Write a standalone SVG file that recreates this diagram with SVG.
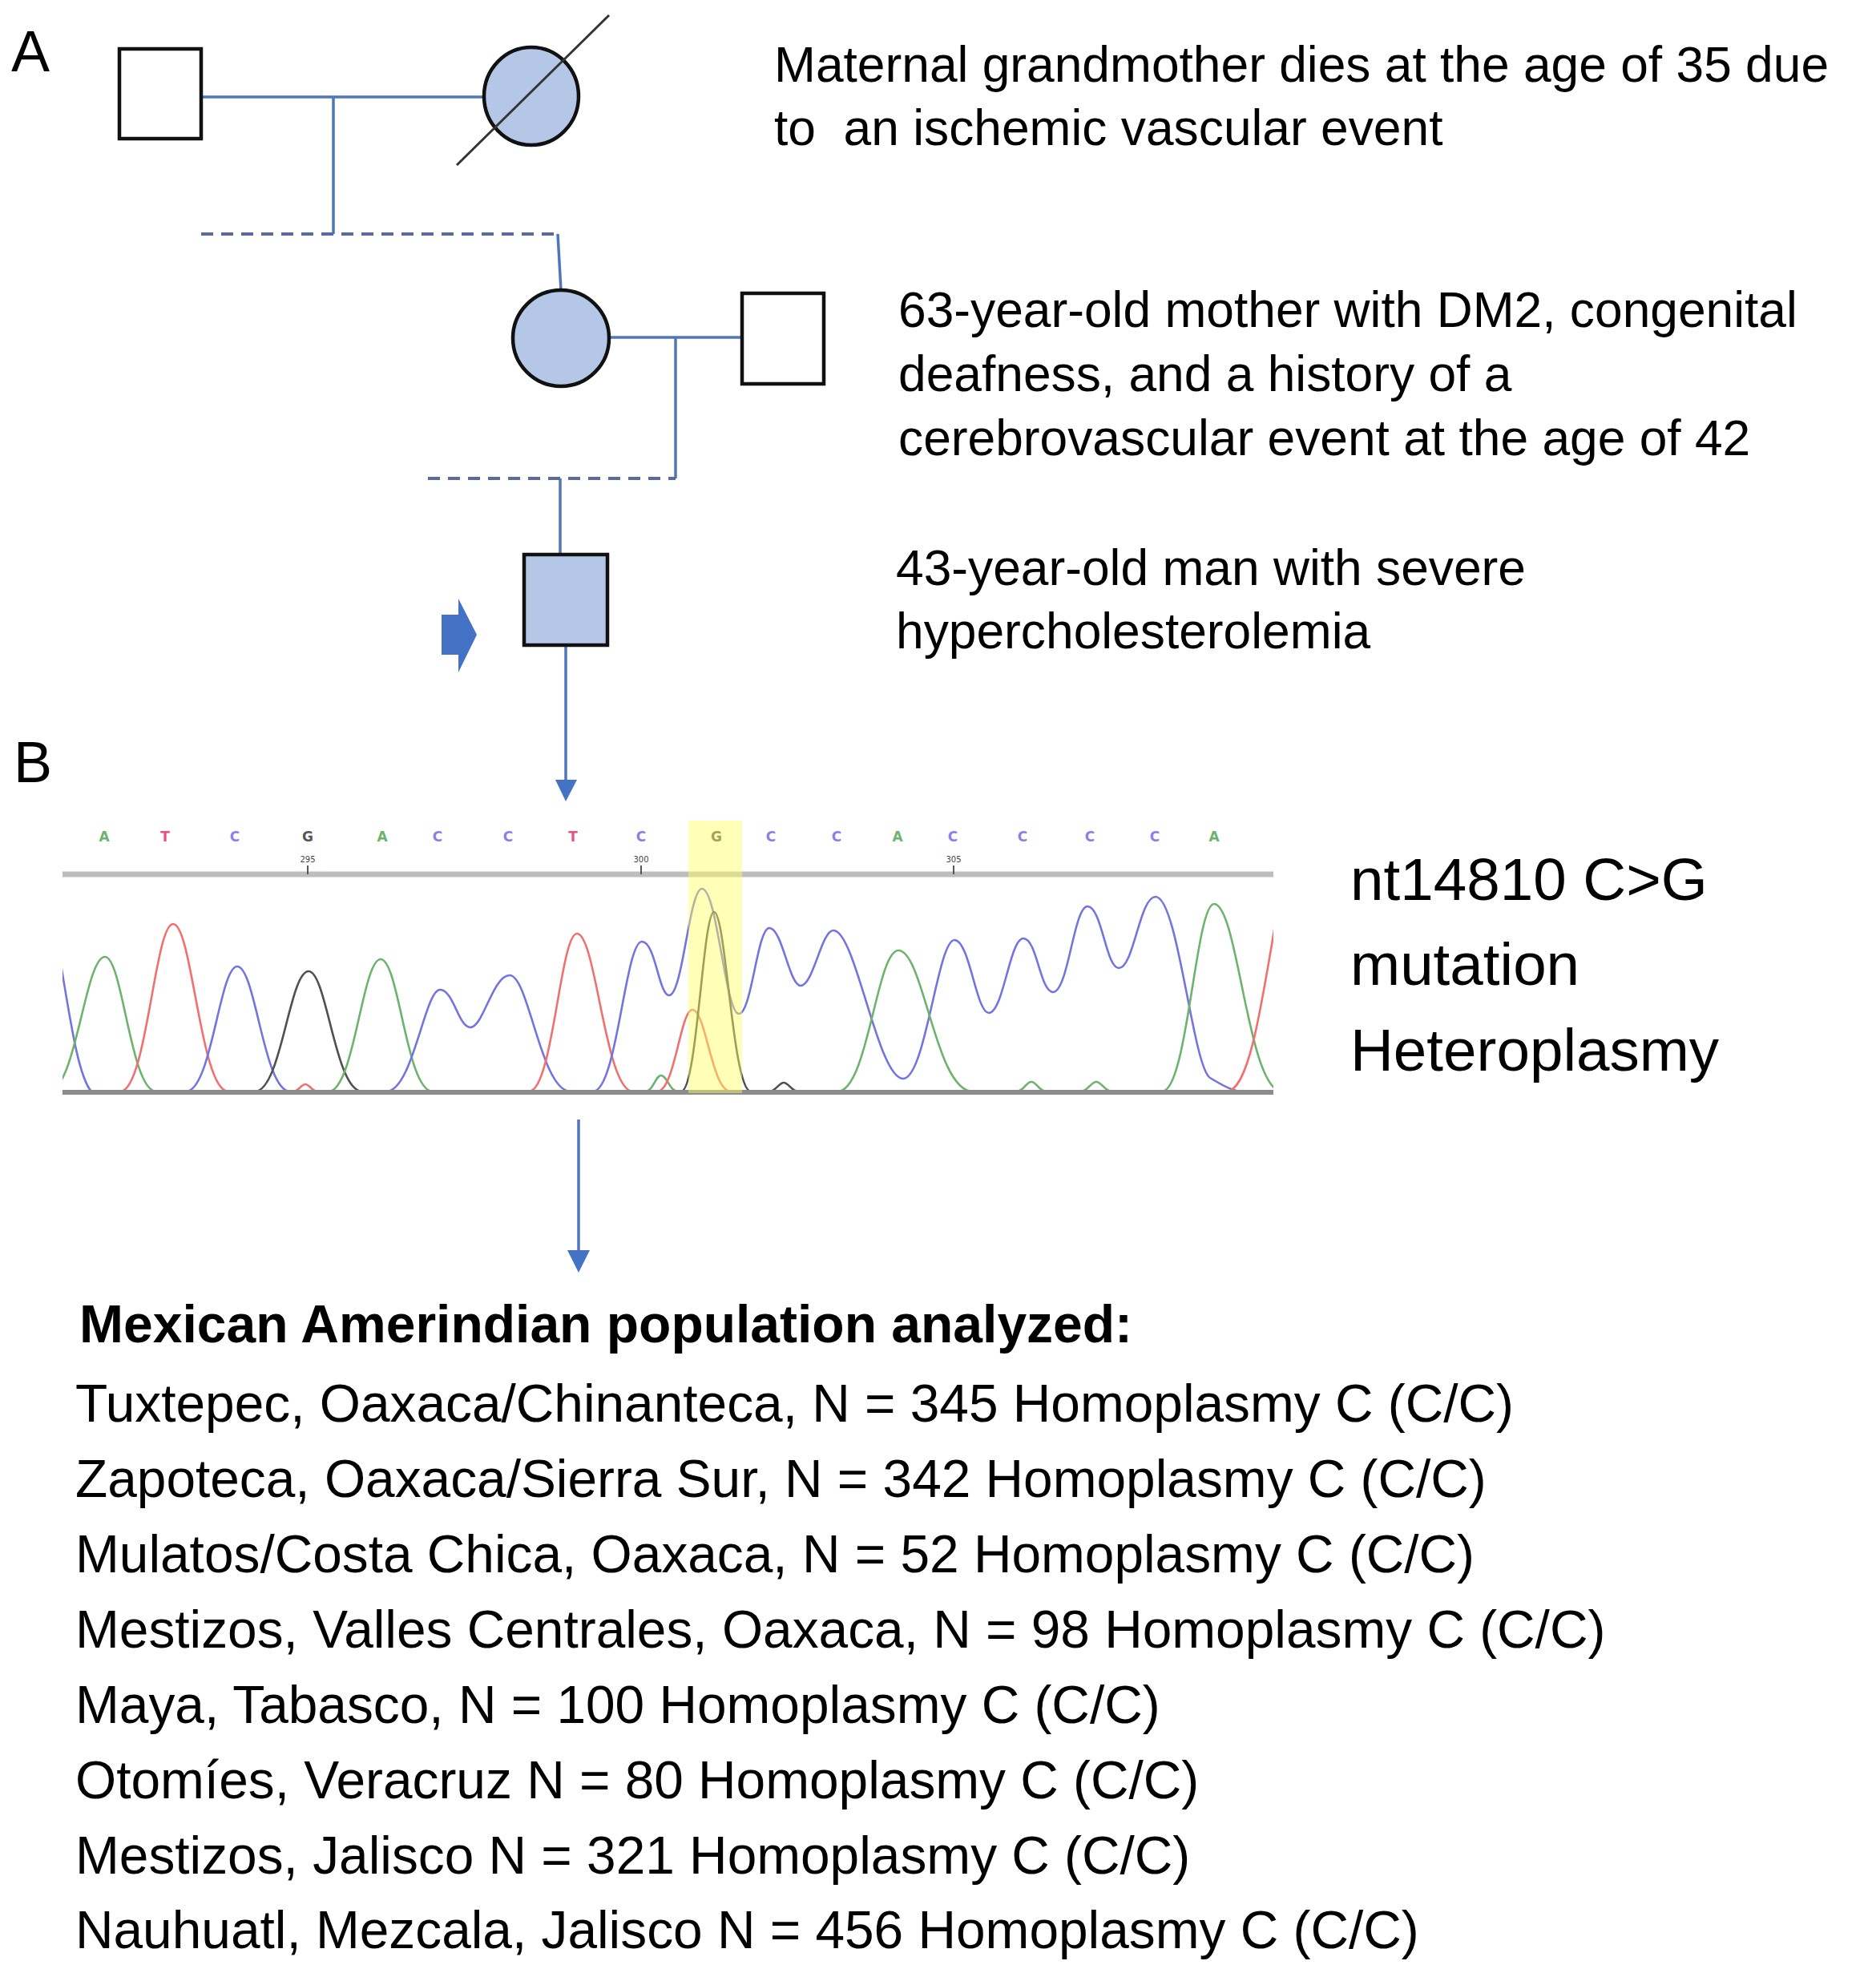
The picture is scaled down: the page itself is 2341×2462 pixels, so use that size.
<svg xmlns="http://www.w3.org/2000/svg" width="2341" height="2462" viewBox="0 0 2341 2462">
<defs>
<style>
.t{font-family:"Liberation Sans",Arial,sans-serif;fill:#000}
.ped{font-size:62.3px}
.lst{font-size:65.8px}
.big{font-size:74.6px}
.lbl{font-family:"Liberation Sans",Arial,sans-serif;font-size:72px;fill:#000}
.node{stroke:#111;stroke-width:4.5}
.aff{fill:#b4c7e7}
.un{fill:#fff}
.ln{stroke:#4f76bd;stroke-width:3.5;fill:none}
.dash{stroke:#5a6aa0;stroke-width:4;stroke-dasharray:15 10;fill:none}
.pk{fill:none;stroke-width:2.6}
.gA{stroke:#6db36d}
.rT{stroke:#f07070}
.bC{stroke:#7474e0}
.kG{stroke:#505050}
.base{font-family:"DejaVu Sans",sans-serif;font-size:17px;font-weight:bold;text-anchor:middle}
.tick{font-family:"DejaVu Sans",sans-serif;font-size:10px;fill:#444;text-anchor:middle}
</style>
<clipPath id="chromclip"><rect x="78" y="1000" width="1511" height="380"/></clipPath>
</defs>
<rect width="2341" height="2462" fill="#fff"/>

<text class="lbl" x="14" y="89">A</text>
<text class="lbl" x="17" y="976">B</text>

<g id="connectors">
<line class="ln" x1="251" y1="121" x2="605" y2="121"/>
<line class="ln" x1="416" y1="121" x2="416" y2="292"/>
<line class="dash" x1="251" y1="292" x2="696" y2="292"/>
<line class="ln" x1="696" y1="292" x2="700" y2="362"/>
<line class="ln" x1="760" y1="421" x2="926" y2="421"/>
<line class="ln" x1="843" y1="421" x2="843" y2="597"/>
<line class="dash" x1="534" y1="597" x2="843" y2="597"/>
<line class="ln" x1="699" y1="597" x2="699" y2="692"/>
<line class="ln" x1="706" y1="806" x2="706" y2="975"/>
<polygon points="693,973 720,973 706,1000" fill="#4472c4"/>
<line class="ln" x1="722" y1="1397" x2="722" y2="1562"/>
<polygon points="708,1560 736,1560 722,1588" fill="#4472c4"/>
</g>

<g id="grandfather"><rect class="node un" x="149" y="61" width="102" height="112"/></g>
<g id="grandmother">
<ellipse class="node aff" cx="663" cy="120" rx="59" ry="61"/>
<line x1="570" y1="206" x2="760" y2="19" stroke="#333" stroke-width="3"/>
</g>
<g id="mother"><ellipse class="node aff" cx="700" cy="422" rx="60" ry="60"/></g>
<g id="father"><rect class="node un" x="926" y="366" width="102" height="113"/></g>
<g id="proband">
<rect class="node aff" x="654" y="692" width="104" height="113"/>
<polygon points="551,767 572,767 572,747 595,792 572,839 572,817 551,817" fill="#4472c4"/>
</g>

<g id="text-grandmother">
<text class="t ped" x="966" y="102">Maternal grandmother dies at the age of 35 due</text>
<text class="t ped" x="966" y="181" xml:space="preserve">to  an ischemic vascular event</text>
</g>
<g id="text-mother">
<text class="t ped" x="1121" y="408">63-year-old mother with DM2, congenital</text>
<text class="t ped" x="1121" y="488">deafness, and a history of a</text>
<text class="t ped" x="1121" y="568">cerebrovascular event at the age of 42</text>
</g>
<g id="text-proband">
<text class="t ped" x="1118" y="730">43-year-old man with severe</text>
<text class="t ped" x="1118" y="809">hypercholesterolemia</text>
</g>

<g id="chromatogram">
<g>
<text class="base" x="130" y="1050" fill="#6db36d">A</text>
<text class="base" x="206" y="1050" fill="#e8508a">T</text>
<text class="base" x="293" y="1050" fill="#8a80e8">C</text>
<text class="base" x="384" y="1050" fill="#555">G</text>
<text class="base" x="477" y="1050" fill="#6db36d">A</text>
<text class="base" x="546" y="1050" fill="#8a80e8">C</text>
<text class="base" x="634" y="1050" fill="#8a80e8">C</text>
<text class="base" x="715" y="1050" fill="#e8508a">T</text>
<text class="base" x="800" y="1050" fill="#8a80e8">C</text>
<text class="base" x="894" y="1050" fill="#555">G</text>
<text class="base" x="962" y="1050" fill="#8a80e8">C</text>
<text class="base" x="1044" y="1050" fill="#8a80e8">C</text>
<text class="base" x="1120" y="1050" fill="#6db36d">A</text>
<text class="base" x="1189" y="1050" fill="#8a80e8">C</text>
<text class="base" x="1276" y="1050" fill="#8a80e8">C</text>
<text class="base" x="1360" y="1050" fill="#8a80e8">C</text>
<text class="base" x="1441" y="1050" fill="#8a80e8">C</text>
<text class="base" x="1515" y="1050" fill="#6db36d">A</text>
</g>
<text class="tick" x="384" y="1076">295</text>
<text class="tick" x="800" y="1076">300</text>
<text class="tick" x="1190" y="1076">305</text>
<line x1="78" y1="1091" x2="1589" y2="1091" stroke="#bdbdbd" stroke-width="7"/>
<line x1="384" y1="1080" x2="384" y2="1091" stroke="#555" stroke-width="2"/>
<line x1="800" y1="1080" x2="800" y2="1091" stroke="#555" stroke-width="2"/>
<line x1="1190" y1="1080" x2="1190" y2="1091" stroke="#555" stroke-width="2"/>
<g clip-path="url(#chromclip)">
<path class="pk bC" d="M70 1170 C85 1250 95 1340 114 1362"/>
<path class="pk gA" d="M60 1362 C95 1362 106 1194 131 1194 C153 1194 163 1362 195 1362"/>
<path class="pk rT" d="M150 1362 C183 1362 193 1153 216 1153 C240 1153 250 1362 285 1362"/>
<path class="pk bC" d="M232 1362 C264 1362 274 1206 296 1206 C319 1206 329 1362 362 1362"/>
<path class="pk kG" d="M318 1362 C351 1362 361 1212 385 1212 C408 1212 418 1362 452 1362"/>
<path class="pk rT" d="M366 1362 C372 1362 376 1353 381 1353 C386 1353 390 1362 396 1362"/>
<path class="pk gA" d="M410 1362 C442 1362 452 1197 475 1197 C498 1197 507 1362 540 1362"/>
<path class="pk bC" d="M482 1362 C515 1362 530 1235 549 1235 C566 1235 572 1282 587 1282 C603 1282 615 1217 636 1217 C660 1217 675 1362 712 1362"/>
<path class="pk rT" d="M660 1362 C690 1362 699 1165 720 1165 C744 1165 755 1362 790 1362"/>
<path class="pk gA" d="M805 1362 C815 1362 818 1342 825 1342 C832 1342 836 1362 846 1362"/>
<path class="pk rT" d="M820 1362 C842 1362 849 1260 864 1260 C881 1260 888 1362 912 1362"/>
<path class="pk bC" d="M740 1362 C770 1362 780 1175 801 1175 C818 1175 822 1242 835 1242 C852 1242 860 1109 876 1109 C895 1109 905 1265 922 1265 C938 1265 945 1158 960 1158 C976 1158 985 1230 999 1230 C1015 1230 1025 1161 1040 1161 C1068 1161 1095 1346 1127 1346 C1155 1346 1170 1173 1191 1173 C1210 1173 1218 1264 1234 1264 C1252 1264 1260 1171 1277 1171 C1294 1171 1298 1238 1314 1238 C1333 1238 1340 1131 1357 1131 C1375 1131 1380 1208 1396 1208 C1415 1208 1422 1119 1442 1119 C1470 1119 1488 1330 1510 1345 C1528 1356 1540 1362 1551 1362"/>
<path class="pk kG" d="M850 1362 C870 1362 877 1138 891 1138 C906 1138 914 1362 937 1362"/>
<path class="pk kG" d="M960 1362 C968 1362 972 1351 978 1351 C984 1351 988 1362 996 1362"/>
<path class="pk gA" d="M1045 1362 C1083 1362 1094 1186 1121 1186 C1153 1186 1167 1362 1214 1362"/>
<path class="pk gA" d="M1268 1362 C1278 1362 1280 1350 1287 1350 C1294 1350 1296 1362 1306 1362"/>
<path class="pk gA" d="M1348 1362 C1358 1362 1361 1350 1368 1350 C1375 1350 1378 1362 1388 1362"/>
<path class="pk gA" d="M1450 1362 C1482 1362 1492 1128 1515 1128 C1545 1128 1557 1362 1600 1362"/>
<path class="pk rT" d="M1530 1362 C1560 1362 1575 1250 1600 1100"/>
</g>
<line x1="78" y1="1363" x2="1589" y2="1363" stroke="#8c8c8c" stroke-width="6"/>
<rect x="859" y="1024" width="67" height="340" fill="#ffff60" opacity="0.45"/>
</g>

<g id="text-mutation">
<text class="t big" x="1685" y="1123">nt14810 C&gt;G</text>
<text class="t big" x="1685" y="1229">mutation</text>
<text class="t big" x="1685" y="1336">Heteroplasmy</text>
</g>

<g id="population-list">
<text class="t" x="99" y="1675" style="font-size:66px;font-weight:bold">Mexican Amerindian population analyzed:</text>
<text class="t lst" x="94" y="1774">Tuxtepec, Oaxaca/Chinanteca, N = 345 Homoplasmy C (C/C)</text>
<text class="t lst" x="94" y="1868">Zapoteca, Oaxaca/Sierra Sur, N = 342 Homoplasmy C (C/C)</text>
<text class="t lst" x="94" y="1962">Mulatos/Costa Chica, Oaxaca, N = 52 Homoplasmy C (C/C)</text>
<text class="t lst" x="94" y="2056">Mestizos, Valles Centrales, Oaxaca, N = 98 Homoplasmy C (C/C)</text>
<text class="t lst" x="94" y="2150">Maya, Tabasco, N = 100 Homoplasmy C (C/C)</text>
<text class="t lst" x="94" y="2244">Otomíes, Veracruz N = 80 Homoplasmy C (C/C)</text>
<text class="t lst" x="94" y="2338">Mestizos, Jalisco N = 321 Homoplasmy C (C/C)</text>
<text class="t lst" x="94" y="2431">Nauhuatl, Mezcala, Jalisco N = 456 Homoplasmy C (C/C)</text>
</g>
</svg>
